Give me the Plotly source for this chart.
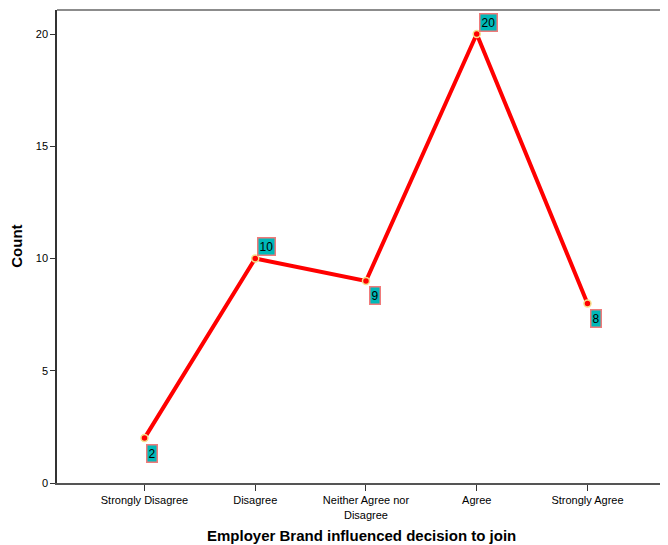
import plotly.graph_objects as go

categories = ["Strongly Disagree", "Disagree", "Neither Agree nor<br>Disagree", "Agree", "Strongly Agree"]
counts = [2, 10, 9, 20, 8]
label_offsets = [(8, -15), (11, 12), (9, -15), (12, 12), (9, -15)]  # pixel shifts of value labels
y_ticks = [0, 5, 10, 15, 20]

fig = go.Figure()
fig.add_trace(go.Scatter(
    x=list(range(len(categories))), y=counts, mode="lines+markers",
    line=dict(color="#FF0000", width=4),
    marker=dict(color="#FF0000", size=7, line=dict(color="#F5E08A", width=1.5)),
    hoverinfo="skip", showlegend=False,
))

for i, (v, (dx, dy)) in enumerate(zip(counts, label_offsets)):
    fig.add_annotation(
        x=i, y=v, text=str(v), showarrow=False, xshift=dx, yshift=dy,
        font=dict(family="Liberation Sans, Arial", size=12, color="#000000"),
        bgcolor="#00B8B8", bordercolor="#F07A7A", borderwidth=1.5, borderpad=1,
    )

fig.add_shape(type="line", xref="paper", yref="paper", x0=0, x1=1, y0=1, y1=1,
              line=dict(color="#8C8C8C", width=2))

fig.add_annotation(xref="paper", yref="paper", x=0.5, y=-0.11, yanchor="middle", xanchor="center",
                   showarrow=False, text="<b>Employer Brand influenced decision to join</b>",
                   font=dict(family="Liberation Sans, Arial", size=15, color="#000000"))
fig.add_annotation(xref="paper", yref="paper", x=-0.067, y=0.5, textangle=-90,
                   xanchor="center", yanchor="middle", showarrow=False, text="<b>Count</b>",
                   font=dict(family="Liberation Sans, Arial", size=15, color="#000000"))

fig.update_layout(
    width=660, height=537,
    margin=dict(l=49, r=3, t=2, b=62),
    paper_bgcolor="white", plot_bgcolor="white",
    font=dict(family="Liberation Sans, Arial", color="#000000"),
    xaxis=dict(
        range=[-0.79, 4.7], tickmode="array", tickvals=list(range(len(categories))),
        ticktext=categories, ticks="outside", ticklen=6, tickwidth=1, tickcolor="#333333",
        showline=True, linecolor="#555555", linewidth=2, showgrid=False, zeroline=False,
        tickfont=dict(size=11), automargin=False,
    ),
    yaxis=dict(
        range=[0, 21.07], tickvals=y_ticks, ticks="outside", ticklen=5, tickwidth=1, tickcolor="#333333",
        showline=True, linecolor="#333333", linewidth=1.5, showgrid=False, zeroline=False,
        tickfont=dict(size=11), automargin=False,
    ),
)

fig.write_html("out.html")
